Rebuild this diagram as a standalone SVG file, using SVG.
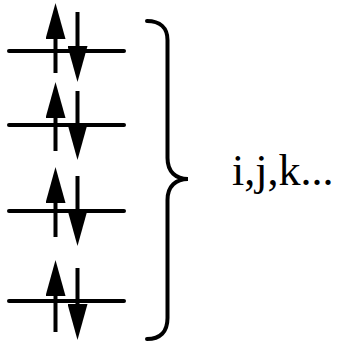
<svg xmlns="http://www.w3.org/2000/svg" width="338" height="342" viewBox="0 0 338 342">
  <style>
    .level { stroke: #000; stroke-width: 4; stroke-linecap: round; fill: none; }
    .spin { stroke: #000; stroke-width: 4; stroke-linecap: butt; fill: none; marker-end: url(#head); }
    .brace { stroke: #000; stroke-width: 4; stroke-linecap: round; fill: none; }
    .label { font-family: "Liberation Serif", "Times New Roman", serif; font-size: 44px; fill: #000; }
  </style>
  <defs>
    <marker id="head" viewBox="0 0 36 20" refX="0" refY="10" markerWidth="36" markerHeight="20" markerUnits="userSpaceOnUse" orient="auto">
      <path d="M0,0 L36,10 L0,20 z" fill="#000"/>
    </marker>
  </defs>

  <rect width="338" height="342" fill="#fff"/>

  <!-- orbital levels, each with a spin-up and spin-down electron -->
  <g id="level1">
    <line class="level" x1="9" y1="51" x2="124" y2="51"/>
    <line class="spin" x1="55.5" y1="73" x2="55.5" y2="39"/>
    <line class="spin" x1="77.5" y1="12" x2="77.5" y2="46"/>
  </g>
  <g id="level2">
    <line class="level" x1="9" y1="125" x2="124" y2="125"/>
    <line class="spin" x1="55.5" y1="151" x2="55.5" y2="118"/>
    <line class="spin" x1="77.5" y1="91" x2="77.5" y2="124"/>
  </g>
  <g id="level3">
    <line class="level" x1="9" y1="211" x2="124" y2="211"/>
    <line class="spin" x1="55.5" y1="237" x2="55.5" y2="203"/>
    <line class="spin" x1="77.5" y1="176" x2="77.5" y2="210"/>
  </g>
  <g id="level4">
    <line class="level" x1="9" y1="301" x2="124" y2="301"/>
    <line class="spin" x1="55.5" y1="332" x2="55.5" y2="296"/>
    <line class="spin" x1="77.5" y1="268" x2="77.5" y2="304"/>
  </g>

  <!-- brace grouping the levels -->
  <g id="brace">
    <path class="brace" d="M147,21 C160,21 167.5,28 167.5,40 L167.5,158 C167.5,172 176,179 188,179 C176,179 167.5,186 167.5,200 L167.5,318 C167.5,332 160,339 147,339"/>
  </g>

  <g id="label">
    <text class="label" x="232" y="185">i,j,k...</text>
  </g>
</svg>
